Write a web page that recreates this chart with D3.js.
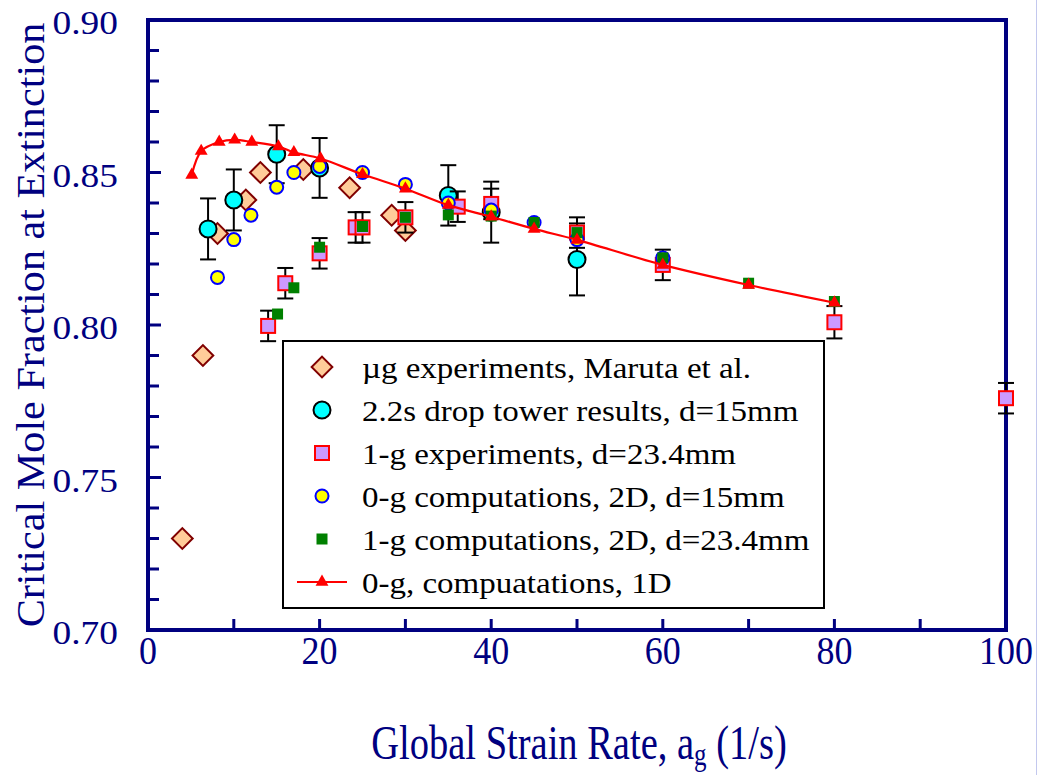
<!DOCTYPE html>
<meta charset="utf-8">
<html>
<head>
    <title>Critical mole fraction at extinction</title>
    <script src="https://cdn.jsdelivr.net/npm/d3@7"></script>
</head>
<style>
    body{
        margin: 0;
        background: white;
    }
    svg{
        display: block;
    }
</style>
<body>
<svg width="1038" height="775"></svg>

<script>
    // ---- data ----
    const xTicks = [0, 20, 40, 60, 80, 100];
    const yTicks = [0.70, 0.75, 0.80, 0.85, 0.90];

    // µg experiments, Maruta et al.
    const marutaX = [4.0, 6.4, 8.1, 11.4, 13.1, 18.1, 23.5, 28.4, 30.0];
    const marutaY = [0.730, 0.790, 0.830, 0.841, 0.850, 0.851, 0.845, 0.836, 0.831];

    // 2.2s drop tower results, d=15mm
    const towerX = [7, 10, 15, 20, 35, 40, 50];
    const towerY = [0.8315, 0.841, 0.856, 0.8515, 0.8425, 0.837, 0.8215];
    const towerErr = [0.010, 0.010, 0.0095, 0.0098, 0.0099, 0.010, 0.0118];

    // 1-g experiments, d=23.4mm
    const oneGExpX = [14, 16, 20, 24.2, 25, 30, 36.1, 40, 50, 60, 80, 100];
    const oneGExpY = [0.7997, 0.8137, 0.8235, 0.832, 0.832, 0.8353, 0.8388, 0.8397, 0.8303, 0.8197, 0.8009, 0.776];
    const oneGExpErr = [0.005, 0.005, 0.005, 0.005, 0.005, 0.005, 0.005, 0.005, 0.005, 0.005, 0.0053, 0.005];

    // 0-g computations, 2D, d=15mm
    const zeroG2dX = [8.1, 10, 12, 15, 17, 20, 25, 30, 35, 40, 45, 50, 60];
    const zeroG2dY = [0.8156, 0.828, 0.836, 0.8452, 0.850, 0.852, 0.850, 0.8461, 0.840, 0.8377, 0.8336, 0.828, 0.822];

    // 1-g computations, 2D, d=23.4mm
    const oneG2dX = [15.1, 17, 20, 25, 30, 35, 40, 45, 50, 60, 70, 80];
    const oneG2dY = [0.8036, 0.8122, 0.8255, 0.8323, 0.8353, 0.8361, 0.8357, 0.8336, 0.8303, 0.822, 0.8137, 0.8077];

    // 0-g computations, 1D
    const zeroG1dX = [5.1, 6.2, 8.3, 10.1, 12.1, 15.2, 17, 20.1, 25, 30, 35, 40, 45, 50, 60, 70, 80];
    const zeroG1dY = [0.8492, 0.857, 0.860, 0.8607, 0.860, 0.8585, 0.8566, 0.8546, 0.8494, 0.8447, 0.8393, 0.8355, 0.8315, 0.8279, 0.8197, 0.8131, 0.8073];

    const legendLabels = [
        "\u00b5g experiments, Maruta et al.",
        "2.2s drop tower results, d=15mm",
        "1-g experiments, d=23.4mm",
        "0-g computations, 2D, d=15mm",
        "1-g computations, 2D, d=23.4mm",
        "0-g, compuatations, 1D"
    ];

    const navy = "#000080";
    const serif = "'Liberation Serif', 'Times New Roman', 'DejaVu Serif', serif";
    const svg = d3.select("svg");

    const x = d3.scaleLinear().domain([0, 100]).range([148, 1006]);
    const y = d3.scaleLinear().domain([0.70, 0.90]).range([630, 20]);

    const zip = (xs, ys, es) => xs.map((v, i) => ({x: v, y: ys[i], e: es ? es[i] : 0}));

    // faint edge line at the far right of the picture
    svg.append("line")
        .attr("x1", 1036.5).attr("x2", 1036.5).attr("y1", 0).attr("y2", 775)
        .attr("stroke", "#c3c8ee").attr("stroke-width", 1);

    // ***************************************
    //        axes box and ticks
    // ***************************************
    const axes = svg.append("g");
    axes.selectAll(".xt")
        .data(d3.range(10, 100, 10))
        .join("line")
        .attr("x1", d => x(d)).attr("x2", d => x(d))
        .attr("y1", y(0.70)).attr("y2", y(0.70) - 11)
        .attr("stroke", navy).attr("stroke-width", 3);
    axes.selectAll(".yt")
        .data(d3.range(1, 20).map(i => 0.70 + i * 0.01))
        .join("line")
        .attr("x1", x(0)).attr("x2", (d, i) => x(0) + ((i + 1) % 5 === 0 ? 13 : 11))
        .attr("y1", d => y(d)).attr("y2", d => y(d))
        .attr("stroke", navy).attr("stroke-width", 3);
    axes.append("rect")
        .attr("x", x(0)).attr("y", y(0.90))
        .attr("width", x(100) - x(0)).attr("height", y(0.70) - y(0.90))
        .attr("fill", "none").attr("stroke", navy).attr("stroke-width", 4);

    // tick labels
    svg.selectAll(".ylab")
        .data(yTicks)
        .join("text")
        .attr("transform", d => `translate(118,${y(d) + 14}) scale(1.1,1)`)
        .attr("text-anchor", "end")
        .style("font-family", serif)
        .style("font-size", "34px")
        .attr("fill", navy)
        .text(d => d.toFixed(2));
    svg.selectAll(".xlab")
        .data(xTicks)
        .join("text")
        .attr("transform", d => `translate(${x(d)},664) scale(1,1.1)`)
        .attr("text-anchor", "middle")
        .style("font-family", serif)
        .style("font-size", "36px")
        .attr("fill", navy)
        .text(d => d);

    // axis titles
    const xt = svg.append("text")
        .attr("transform", "translate(579,759) scale(1,1.25)")
        .attr("text-anchor", "middle")
        .style("font-family", serif)
        .style("font-size", "38.5px")
        .attr("fill", navy);
    xt.append("tspan").text("Global Strain Rate, a");
    xt.append("tspan").style("font-size", "25px").attr("dy", 5).text("g");
    xt.append("tspan").attr("dy", -5).text(" (1/s)");

    svg.append("text")
        .attr("transform", "translate(44,325) rotate(-90) scale(1.055,1)")
        .attr("text-anchor", "middle")
        .style("font-family", serif)
        .style("font-size", "40px")
        .attr("fill", navy)
        .text("Critical Mole Fraction at Extinction");

    // ***************************************
    //        marks
    // ***************************************
    const diamond = d3.symbol().type(d3.symbolSquare).size(215);
    const plot = svg.append("g");

    function errBars(data) {
        const g = plot.append("g").attr("stroke", "black").attr("stroke-width", 2);
        g.selectAll(".v").data(data).join("line")
            .attr("x1", d => x(d.x)).attr("x2", d => x(d.x))
            .attr("y1", d => y(d.y - d.e)).attr("y2", d => y(d.y + d.e));
        g.selectAll(".t").data(data).join("line")
            .attr("x1", d => x(d.x) - 8).attr("x2", d => x(d.x) + 8)
            .attr("y1", d => y(d.y + d.e)).attr("y2", d => y(d.y + d.e));
        g.selectAll(".b").data(data).join("line")
            .attr("x1", d => x(d.x) - 8).attr("x2", d => x(d.x) + 8)
            .attr("y1", d => y(d.y - d.e)).attr("y2", d => y(d.y - d.e));
    }

    // Maruta diamonds
    plot.append("g").selectAll("path")
        .data(zip(marutaX, marutaY))
        .join("path")
        .attr("d", diamond)
        .attr("transform", d => `translate(${x(d.x)},${y(d.y)}) rotate(45)`)
        .attr("fill", "#ffcc99").attr("stroke", "#800000").attr("stroke-width", 2);

    // drop tower circles
    const tower = zip(towerX, towerY, towerErr);
    errBars(tower);
    plot.append("g").selectAll("circle")
        .data(tower)
        .join("circle")
        .attr("cx", d => x(d.x)).attr("cy", d => y(d.y)).attr("r", 8.5)
        .attr("fill", "#00ffff").attr("stroke", "black").attr("stroke-width", 2);

    // 1-g experiment squares
    const oneGExp = zip(oneGExpX, oneGExpY, oneGExpErr);
    errBars(oneGExp);
    plot.append("g").selectAll("rect")
        .data(oneGExp)
        .join("rect")
        .attr("x", d => x(d.x) - 7).attr("y", d => y(d.y) - 7)
        .attr("width", 14).attr("height", 14)
        .attr("fill", "#cc99ff").attr("stroke", "red").attr("stroke-width", 2);

    // 0-g 2D circles
    plot.append("g").selectAll("circle")
        .data(zip(zeroG2dX, zeroG2dY))
        .join("circle")
        .attr("cx", d => x(d.x)).attr("cy", d => y(d.y)).attr("r", 6.5)
        .attr("fill", "#ffff00").attr("stroke", "#0000ff").attr("stroke-width", 2);

    // 1-g 2D squares
    plot.append("g").selectAll("rect")
        .data(zip(oneG2dX, oneG2dY))
        .join("rect")
        .attr("x", d => x(d.x) - 5.5).attr("y", d => y(d.y) - 5.5)
        .attr("width", 11).attr("height", 11)
        .attr("fill", "#008000");

    // 0-g 1D line + triangles
    const zeroG1d = zip(zeroG1dX, zeroG1dY);
    plot.append("path")
        .datum(zeroG1d)
        .attr("d", d3.line().x(d => x(d.x)).y(d => y(d.y)).curve(d3.curveCatmullRom.alpha(0.5)))
        .attr("fill", "none").attr("stroke", "red").attr("stroke-width", 2.2);
    const tri = d3.symbol().type(d3.symbolTriangle).size(72);
    plot.append("g").selectAll("path")
        .data(zeroG1d)
        .join("path")
        .attr("d", tri)
        .attr("transform", d => `translate(${x(d.x)},${y(d.y)})`)
        .attr("fill", "red");

    // ***************************************
    //        legend
    // ***************************************
    const lg = svg.append("g");
    lg.append("rect")
        .attr("x", 283).attr("y", 341).attr("width", 541).attr("height", 267)
        .attr("fill", "white").attr("stroke", "black").attr("stroke-width", 2);
    const rowY = i => 367 + i * 43;
    const mx = 322;
    lg.append("path").attr("d", diamond)
        .attr("transform", `translate(${mx},${rowY(0)}) rotate(45)`)
        .attr("fill", "#ffcc99").attr("stroke", "#800000").attr("stroke-width", 2);
    lg.append("circle").attr("cx", mx).attr("cy", rowY(1)).attr("r", 8.5)
        .attr("fill", "#00ffff").attr("stroke", "black").attr("stroke-width", 2);
    lg.append("rect").attr("x", mx - 7).attr("y", rowY(2) - 7).attr("width", 14).attr("height", 14)
        .attr("fill", "#cc99ff").attr("stroke", "red").attr("stroke-width", 2);
    lg.append("circle").attr("cx", mx).attr("cy", rowY(3)).attr("r", 6.5)
        .attr("fill", "#ffff00").attr("stroke", "#0000ff").attr("stroke-width", 2);
    lg.append("rect").attr("x", mx - 5.5).attr("y", rowY(4) - 5.5).attr("width", 11).attr("height", 11)
        .attr("fill", "#008000");
    lg.append("line").attr("x1", mx - 25).attr("x2", mx + 25).attr("y1", rowY(5)).attr("y2", rowY(5))
        .attr("stroke", "red").attr("stroke-width", 2.2);
    lg.append("path").attr("d", tri).attr("transform", `translate(${mx},${rowY(5)})`).attr("fill", "red");

    lg.selectAll(".lt")
        .data(legendLabels)
        .join("text")
        .attr("transform", (d, i) => `translate(362,${rowY(i) + 11}) scale(1.1,1)`)
        .style("font-family", serif)
        .style("font-size", "30px")
        .attr("fill", "black")
        .text(d => d);
</script>
</body>
</html>
